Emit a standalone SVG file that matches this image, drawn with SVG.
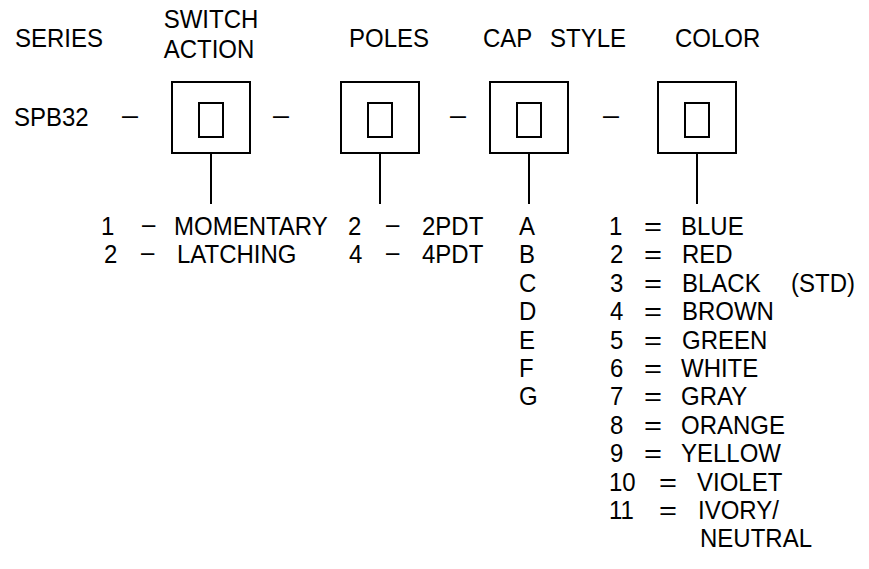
<svg xmlns="http://www.w3.org/2000/svg" width="869" height="569" viewBox="0 0 869 569">
<style>
  text { font-family: "Liberation Sans", Arial, sans-serif; font-size: 24px; fill: #000;
         transform-box: fill-box; transform-origin: 50% 79%; transform: scaleY(1.08); }
  .box { fill: none; stroke: #000; stroke-width: 2; }
  .conn { stroke: #000; stroke-width: 2; fill: none; }
</style>
<rect width="869" height="569" fill="#fff"/>
<g id="headers">
  <text x="15" y="46.7">SERIES</text>
  <text x="211" y="28.3" text-anchor="middle">SWITCH</text>
  <text x="209" y="58.3" text-anchor="middle">ACTION</text>
  <text x="349" y="46.7">POLES</text>
  <text x="483" y="46.7">CAP</text>
  <text x="550" y="46.7">STYLE</text>
  <text x="675" y="46.7">COLOR</text>
</g>
<g id="series">
  <text x="14" y="126">SPB32</text>
  <text x="122" y="124" textLength="16" lengthAdjust="spacingAndGlyphs">–</text>
</g>
<g id="box-action">
  <rect class="box" x="172" y="82" width="78" height="71"/>
  <rect class="box" x="199" y="103" width="24" height="34"/>
</g>
<g id="sep1"><text x="273" y="124" textLength="16" lengthAdjust="spacingAndGlyphs">–</text></g>
<g id="box-poles">
  <rect class="box" x="341" y="82" width="78" height="71"/>
  <rect class="box" x="368" y="103" width="24" height="34"/>
</g>
<g id="sep2"><text x="450" y="124" textLength="16" lengthAdjust="spacingAndGlyphs">–</text></g>
<g id="box-cap">
  <rect class="box" x="490" y="82" width="78" height="71"/>
  <rect class="box" x="517" y="103" width="24" height="34"/>
</g>
<g id="sep3"><text x="603" y="124" textLength="16" lengthAdjust="spacingAndGlyphs">–</text></g>
<g id="box-color">
  <rect class="box" x="658" y="82" width="78" height="71"/>
  <rect class="box" x="685" y="103" width="24" height="34"/>
</g>
<g id="connectors">
  <line class="conn" x1="211" y1="153" x2="211" y2="204"/>
  <line class="conn" x1="380" y1="153" x2="380" y2="204"/>
  <line class="conn" x1="529" y1="153" x2="529" y2="204"/>
  <line class="conn" x1="697" y1="153" x2="697" y2="204"/>
</g>
<g id="list-action">
  <text y="235"><tspan x="101">1</tspan><tspan x="142" y="233">–</tspan><tspan x="174" y="235">MOMENTARY</tspan></text>
  <text y="263.4"><tspan x="104">2</tspan><tspan x="141" y="261.4">–</tspan><tspan x="177" y="263.4">LATCHING</tspan></text>
</g>
<g id="list-poles">
  <text y="235"><tspan x="348">2</tspan><tspan x="386" y="233">–</tspan><tspan x="422" y="235">2PDT</tspan></text>
  <text y="263.4"><tspan x="349">4</tspan><tspan x="386" y="261.4">–</tspan><tspan x="422" y="263.4">4PDT</tspan></text>
</g>
<g id="list-cap">
  <text x="519" y="235">A</text>
  <text x="519" y="263.4">B</text>
  <text x="519" y="291.8">C</text>
  <text x="519" y="320.2">D</text>
  <text x="519" y="348.6">E</text>
  <text x="519" y="377">F</text>
  <text x="519" y="405.4">G</text>
</g>
<g id="list-color">
  <text x="609" y="235">1</text><text x="644" y="235" textLength="18" lengthAdjust="spacingAndGlyphs">=</text><text x="681" y="235">BLUE</text>
  <text x="610" y="263.4">2</text><text x="644" y="263.4" textLength="18" lengthAdjust="spacingAndGlyphs">=</text><text x="682" y="263.4">RED</text>
  <text x="610" y="291.8">3</text><text x="644" y="291.8" textLength="18" lengthAdjust="spacingAndGlyphs">=</text><text x="682" y="291.8">BLACK</text>
  <text x="791" y="291.8">(STD)</text>
  <text x="610" y="320.2">4</text><text x="644" y="320.2" textLength="18" lengthAdjust="spacingAndGlyphs">=</text><text x="682" y="320.2">BROWN</text>
  <text x="610" y="348.6">5</text><text x="644" y="348.6" textLength="18" lengthAdjust="spacingAndGlyphs">=</text><text x="682" y="348.6">GREEN</text>
  <text x="610" y="377">6</text><text x="644" y="377" textLength="18" lengthAdjust="spacingAndGlyphs">=</text><text x="681" y="377">WHITE</text>
  <text x="610" y="405.4">7</text><text x="644" y="405.4" textLength="18" lengthAdjust="spacingAndGlyphs">=</text><text x="681" y="405.4">GRAY</text>
  <text x="610" y="433.8">8</text><text x="644" y="433.8" textLength="18" lengthAdjust="spacingAndGlyphs">=</text><text x="681" y="433.8">ORANGE</text>
  <text x="610" y="462.2">9</text><text x="644" y="462.2" textLength="18" lengthAdjust="spacingAndGlyphs">=</text><text x="681" y="462.2">YELLOW</text>
  <text x="609" y="490.6">10</text><text x="659" y="490.6" textLength="18" lengthAdjust="spacingAndGlyphs">=</text><text x="697" y="490.6">VIOLET</text>
  <text x="609" y="519">11</text><text x="659" y="519" textLength="18" lengthAdjust="spacingAndGlyphs">=</text><text x="698" y="519">IVORY/</text>
  <text x="700" y="547.4">NEUTRAL</text>
</g>
</svg>
